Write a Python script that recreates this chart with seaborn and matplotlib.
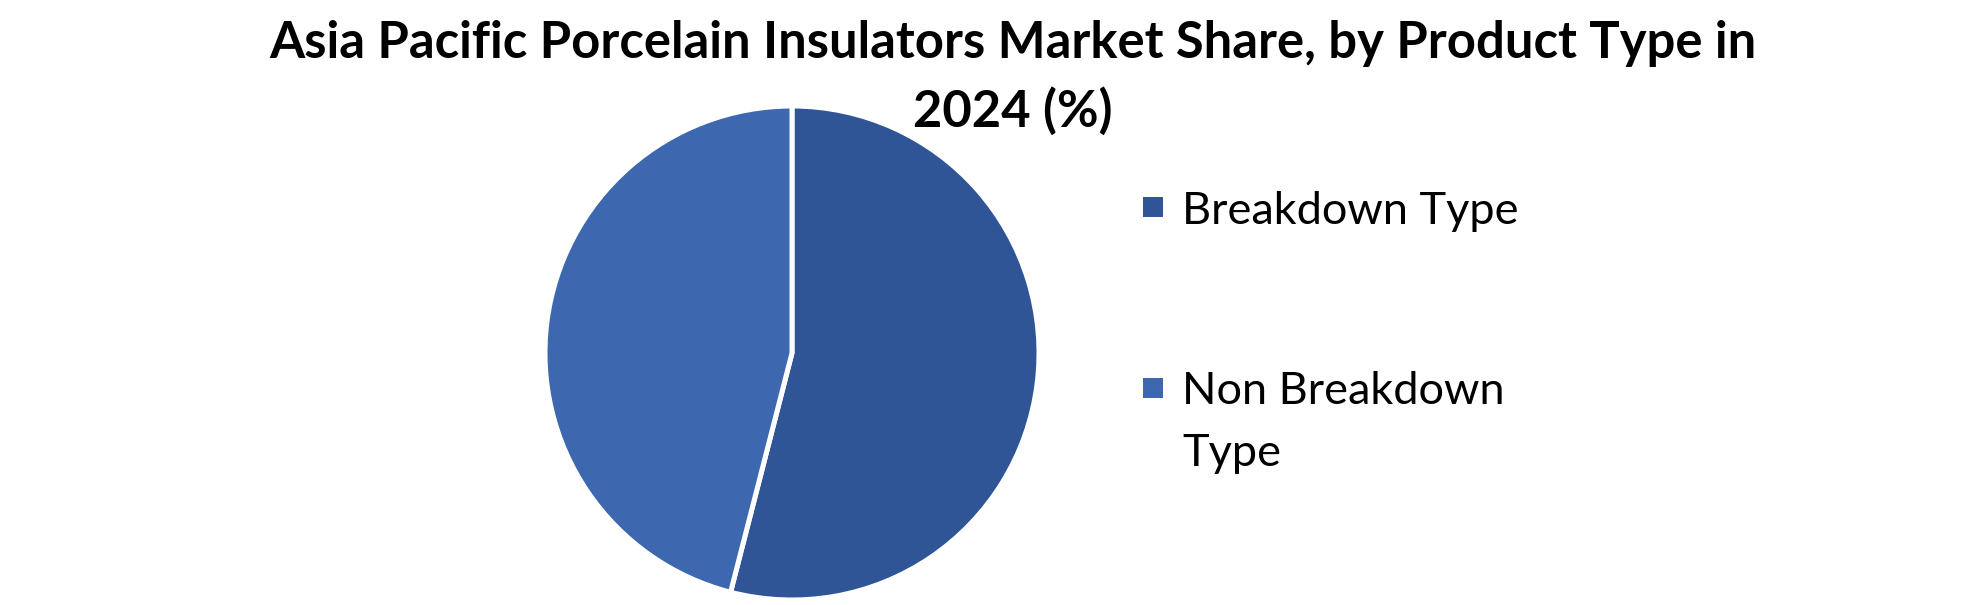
import matplotlib
matplotlib.use("Agg")
import matplotlib.pyplot as plt
import seaborn as sns
from matplotlib.patches import Rectangle

categories = ["Breakdown Type", "Non Breakdown\nType"]
shares = [54.0, 46.0]
colors = ["#2F5597", "#3D67AE"]
title = "Asia Pacific Porcelain Insulators Market Share, by Product Type in\n2024 (%)"

sns.set_theme(style="white")
plt.rcParams['font.family'] = ['Lato', 'DejaVu Sans']

W, H = 1980, 605
fig = plt.figure(figsize=(W / 100, H / 100), dpi=100)
fig.patch.set_facecolor("white")

cx, cy, r = 792, 353, 247
ax = fig.add_axes([(cx - r) / W, (H - cy - r) / H, 2 * r / W, 2 * r / H])
wedges, _ = ax.pie(shares, colors=colors, startangle=90, counterclock=False,
                   radius=1.0, wedgeprops=dict(edgecolor="white", linewidth=3.6))
ax.set_xlim(-1.0, 1.0)
ax.set_ylim(-1.0, 1.0)
ax.set_axis_off()

fig.text(1013 / W, 1 - 58 / H, title.split("\n")[0], ha="center", va="baseline",
         fontsize=36.5, fontweight="bold", color="black")
fig.text(1013 / W, 1 - 127 / H, title.split("\n")[1], ha="center", va="baseline",
         fontsize=36.5, fontweight="bold", color="black")

# legend
marker_x = 1143
marker_size = 20
text_x = 1182
entries = [(207, [categories[0]]), (388, categories[1].split("\n"))]
for (yc, lines), col in zip(entries, colors):
    fig.patches.append(Rectangle(((marker_x) / W, 1 - (yc + marker_size / 2) / H),
                                 marker_size / W, marker_size / H,
                                 transform=fig.transFigure, facecolor=col,
                                 edgecolor="none"))
    for i, ln in enumerate(lines):
        fig.text(text_x / W, 1 - (yc + 62 * i) / H, ln, ha="left", va="center_baseline",
                 fontsize=32.5, color="black")

fig.savefig("out.png", dpi=100, facecolor="white")
